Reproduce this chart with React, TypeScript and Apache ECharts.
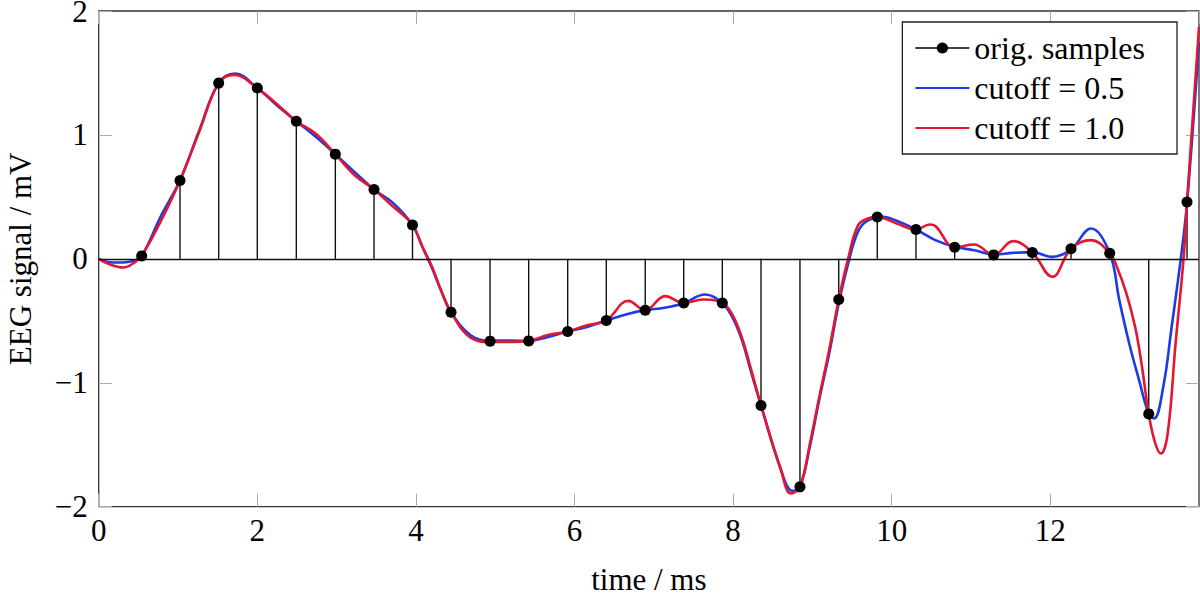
import React, { useEffect, useRef } from "react";
import * as echarts from "echarts";

// Original samples (time in ms, signal in mV)
const sampleTimes = [
  0.542, 1.025, 1.513, 2.0, 2.492, 2.984, 3.472, 3.957, 4.443, 4.935, 5.422, 5.914, 6.401, 6.892,
  7.377, 7.864, 8.352, 8.843, 9.332, 9.818, 10.306, 10.794, 11.286, 11.773, 12.261, 12.749, 13.241, 13.724,
];
const sampleValues = [
  0.024, 0.633, 1.418, 1.378, 1.111, 0.845, 0.56, 0.274, -0.43, -0.664, -0.662, -0.586, -0.497, -0.414,
  -0.356, -0.356, -1.183, -1.84, -0.328, 0.337, 0.237, 0.094, 0.032, 0.052, 0.081, 0.046, -1.251, 0.458,
];

// Interpolated signal, cutoff = 0.5
const cutoff05Times = [
  0.0, 0.12, 0.25, 0.42, 0.542, 0.78, 1.025, 1.27, 1.513, 1.72, 2.0, 2.245, 2.492, 2.738, 2.984, 3.228,
  3.472, 3.715, 3.957, 4.08, 4.2, 4.32, 4.443, 4.69, 4.935, 5.18, 5.422, 5.668, 5.914, 6.158, 6.401,
  6.647, 6.892, 7.135, 7.377, 7.645, 7.864, 7.99, 8.108, 8.23, 8.352, 8.597, 8.75, 8.843, 8.966, 9.088,
  9.21, 9.332, 9.45, 9.575, 9.7, 9.894, 10.062, 10.306, 10.55, 10.794, 11.04, 11.286, 11.53, 11.773,
  12.017, 12.261, 12.513, 12.749, 12.87, 12.995, 13.12, 13.241, 13.308, 13.425, 13.53, 13.645, 13.724,
  13.875,
];
const cutoff05Values = [
  0.0, -0.025, -0.03, -0.02, 0.024, 0.34, 0.633, 1.04, 1.418, 1.495, 1.378, 1.24, 1.111, 0.985, 0.845,
  0.7, 0.56, 0.45, 0.274, 0.1, -0.07, -0.26, -0.43, -0.616, -0.66, -0.66, -0.662, -0.63, -0.586,
  -0.549, -0.497, -0.449, -0.414, -0.395, -0.358, -0.288, -0.358, -0.47, -0.65, -0.92, -1.183, -1.69,
  -1.872, -1.84, -1.52, -1.13, -0.77, -0.36, -0.04, 0.22, 0.31, 0.339, 0.307, 0.237, 0.151, 0.097,
  0.07, 0.035, 0.048, 0.054, 0.016, 0.078, 0.245, 0.046, -0.333, -0.683, -0.98, -1.25, -1.288, -1.03,
  -0.55, 0.0, 0.452, 1.75,
];

// Interpolated signal, cutoff = 1.0
const cutoff10Times = [
  0.0, 0.12, 0.31, 0.45, 0.542, 0.78, 1.025, 1.27, 1.513, 1.71, 2.0, 2.245, 2.492, 2.738, 2.984, 3.228,
  3.472, 3.715, 3.957, 4.08, 4.2, 4.32, 4.443, 4.69, 4.935, 5.18, 5.422, 5.668, 5.914, 6.158, 6.401,
  6.678, 6.892, 7.141, 7.377, 7.62, 7.864, 7.99, 8.108, 8.23, 8.352, 8.597, 8.73, 8.843, 8.966, 9.088,
  9.21, 9.332, 9.45, 9.575, 9.7, 9.818, 10.062, 10.306, 10.48, 10.55, 10.794, 11.04, 11.286, 11.53,
  11.773, 12.025, 12.261, 12.513, 12.749, 12.84, 12.96, 13.07, 13.15, 13.241, 13.32, 13.395, 13.48,
  13.58, 13.68, 13.724, 13.875,
];
const cutoff10Values = [
  0.0, -0.04, -0.07, -0.03, 0.024, 0.3, 0.633, 1.03, 1.418, 1.483, 1.378, 1.25, 1.111, 1.01, 0.845,
  0.675, 0.56, 0.42, 0.274, 0.1, -0.06, -0.26, -0.43, -0.637, -0.67, -0.67, -0.662, -0.615, -0.586,
  -0.535, -0.497, -0.339, -0.414, -0.301, -0.356, -0.328, -0.356, -0.45, -0.63, -0.9, -1.183, -1.69,
  -1.894, -1.84, -1.5, -1.11, -0.74, -0.328, 0.0, 0.27, 0.326, 0.337, 0.286, 0.237, 0.277, 0.266,
  0.094, 0.116, 0.032, 0.143, 0.052, -0.145, 0.081, 0.151, 0.046, -0.065, -0.28, -0.55, -0.845,
  -1.251, -1.48, -1.571, -1.41, -0.68, 0.0, 0.458, 1.87,
];

const legendNames = ["orig. samples", "cutoff = 0.5", "cutoff = 1.0"];

const zip = (a: number[], b: number[]) => a.map((v, i) => [v, b[i]]);

const FONT = "'Liberation Serif', 'Times New Roman', serif";

const tickStyle = { show: true, inside: true, length: 13, lineStyle: { color: "#aaa", width: 1 } };

export default function App() {
  const ref = useRef<HTMLDivElement>(null);

  useEffect(() => {
    if (!ref.current) return;
    const chart = echarts.init(ref.current, undefined, { renderer: "svg" });
    const minus = (v: number) => (v < 0 ? "\u2212" + Math.abs(v) : String(v));

    chart.setOption({
      animation: false,
      backgroundColor: "#fff",
      textStyle: { fontFamily: FONT },
      grid: {
        left: 98.7,
        right: 1,
        top: 11,
        bottom: 92.3,
        show: true,
        borderColor: "#333",
        borderWidth: 1.3,
        backgroundColor: "transparent",
        containLabel: false,
        outerBoundsMode: "none",
      },
      legend: {
        data: [
          { name: legendNames[0], lineStyle: { opacity: 1, color: "#000", width: 1.4 }, itemStyle: { color: "#000" } },
          { name: legendNames[1], itemStyle: { opacity: 0 } },
          { name: legendNames[2], itemStyle: { opacity: 0 } },
        ],
        orient: "vertical",
        right: 23,
        top: 22,
        itemWidth: 54,
        itemHeight: 14,
        itemGap: 8,
        padding: [10, 32, 10, 12],
        borderColor: "#222",
        borderWidth: 1.3,
        backgroundColor: "#fff",
        textStyle: { fontFamily: FONT, fontSize: 32, color: "#000", lineHeight: 32 },
        selectedMode: false,
      },
      xAxis: [
        {
          type: "value",
          min: 0,
          max: 13.875,
          interval: 2,
          name: "time / ms",
          nameLocation: "middle",
          nameGap: 57,
          nameTextStyle: { fontFamily: FONT, fontSize: 31, color: "#000" },
          axisLine: { show: false, onZero: false },
          axisTick: tickStyle,
          axisLabel: {
            fontFamily: FONT,
            fontSize: 31,
            color: "#000",
            margin: 8,
            showMaxLabel: false,
            formatter: minus,
          },
          splitLine: { show: false },
        },
        {
          type: "value",
          position: "top",
          min: 0,
          max: 13.875,
          interval: 2,
          axisLine: { show: false, onZero: false },
          axisTick: tickStyle,
          axisLabel: { show: false },
          splitLine: { show: false },
        },
      ],
      yAxis: [
        {
          type: "value",
          min: -2,
          max: 2,
          interval: 1,
          name: "EEG signal / mV",
          nameLocation: "middle",
          nameGap: 63,
          nameTextStyle: { fontFamily: FONT, fontSize: 31, color: "#000" },
          axisLine: { show: false, onZero: false },
          axisTick: tickStyle,
          axisLabel: {
            fontFamily: FONT,
            fontSize: 31,
            lineHeight: 22,
            padding: [4, 0, 0, 0],
            color: "#000",
            margin: 11,
            formatter: minus,
          },
          splitLine: { show: false },
        },
        {
          type: "value",
          position: "right",
          min: -2,
          max: 2,
          interval: 1,
          axisLine: { show: false, onZero: false },
          axisTick: tickStyle,
          axisLabel: { show: false },
          splitLine: { show: false },
        },
      ],
      series: [
        {
          type: "custom",
          name: "stems",
          z: 2,
          data: zip(sampleTimes, sampleValues),
          encode: { x: 0, y: 1 },
          renderItem: (_params: any, api: any) => {
            const top = api.coord([api.value(0), api.value(1)]);
            const base = api.coord([api.value(0), 0]);
            return {
              type: "line",
              shape: { x1: base[0], y1: base[1], x2: top[0], y2: top[1] },
              style: { stroke: "#111", lineWidth: 1.4 },
            };
          },
          markLine: {
            silent: true,
            symbol: "none",
            label: { show: false },
            lineStyle: { color: "#111", width: 1.4, type: "solid" },
            data: [{ yAxis: 0 }],
          },
        },
        {
          type: "line",
          name: legendNames[1],
          z: 3,
          data: zip(cutoff05Times, cutoff05Values),
          symbol: "none",
          smooth: 0.4,
          lineStyle: { color: "#1c3be6", width: 2.6 },
          itemStyle: { color: "#1c3be6" },
        },
        {
          type: "line",
          name: legendNames[2],
          z: 4,
          data: zip(cutoff10Times, cutoff10Values),
          symbol: "none",
          smooth: 0.4,
          lineStyle: { color: "#e5172e", width: 2.6 },
          itemStyle: { color: "#e5172e" },
        },
        {
          type: "line",
          name: legendNames[0],
          z: 5,
          data: zip(sampleTimes, sampleValues),
          symbol: "circle",
          symbolSize: 11,
          showSymbol: true,
          lineStyle: { opacity: 0 },
          itemStyle: { color: "#000" },
        },
      ],
    });
    return () => chart.dispose();
  }, []);

  return (
    <div
      ref={ref}
      style={{ position: "fixed", left: 0, top: 0, width: 1200, height: 599, background: "#fff" }}
    />
  );
}
